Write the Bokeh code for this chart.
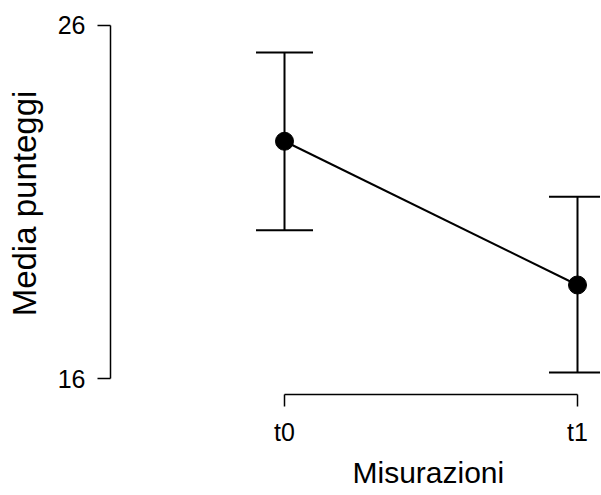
from bokeh.plotting import figure
from bokeh.models import (ColumnDataSource, Range1d, FixedTicker, Whisker, TeeHead, Title)
from bokeh.embed import file_html
from bokeh.resources import INLINE

# data
categories = ["t0", "t1"]
means = [22.72, 18.65]
lower = [20.20, 16.17]
upper = [25.23, 21.15]
y_ticks = [16, 26]

xs = list(range(len(categories)))
src = ColumnDataSource(dict(x=xs, mean=means, lower=lower, upper=upper))

FONT = "Liberation Sans"

p = figure(width=600, height=493, output_backend="svg", toolbar_location=None,
           x_range=Range1d(-0.5939, 1.0785), y_range=Range1d(15.549, 26.366),
           min_border_left=110, min_border_right=0, min_border_top=12,
           min_border_bottom=97)
p.outline_line_color = None
p.xgrid.visible = False
p.ygrid.visible = False
p.background_fill_color = "white"
p.border_fill_color = "white"

# error bars
w = Whisker(base="x", upper="upper", lower="lower", source=src,
            line_color="black", line_width=2,
            upper_head=TeeHead(size=57, line_color="black", line_width=2),
            lower_head=TeeHead(size=57, line_color="black", line_width=2))
p.add_layout(w)

p.line("x", "mean", source=src, line_color="black", line_width=2)
p.scatter("x", "mean", source=src, size=18, color="black")

# y axis
ya = p.yaxis[0]
ya.ticker = FixedTicker(ticks=y_ticks)
ya.bounds = (y_ticks[0], y_ticks[-1])
ya.minor_tick_line_color = None
ya.major_tick_out = 13
ya.major_tick_in = 0
ya.major_label_standoff = 12
ya.major_label_text_font = FONT
ya.major_label_text_font_size = "25px"
ya.major_label_text_color = "black"
ya.major_label_orientation = "horizontal"
ya.axis_line_width = 1.5
ya.major_tick_line_width = 1.5
ya.axis_line_color = "black"
ya.major_tick_line_color = "black"
ya.axis_label = "Media punteggi"
ya.axis_label_text_font = FONT
ya.axis_label_text_font_size = "33px"
ya.axis_label_text_font_style = "normal"
ya.axis_label_text_color = "black"
ya.axis_label_standoff = 12

# x axis
xa = p.xaxis[0]
xa.ticker = FixedTicker(ticks=xs)
xa.major_label_overrides = {i: c for i, c in zip(xs, categories)}
xa.bounds = (xs[0], xs[-1])
xa.minor_tick_line_color = None
xa.major_tick_out = 12
xa.major_tick_in = 0
xa.major_label_standoff = 11
xa.major_label_text_font = FONT
xa.major_label_text_font_size = "25px"
xa.major_label_text_color = "black"
xa.axis_line_width = 1.5
xa.major_tick_line_width = 1.5
xa.axis_line_color = "black"
xa.major_tick_line_color = "black"

xtitle = Title(text="Misurazioni", align="left", offset=237, standoff=0,
               padding=5,
               text_font=FONT, text_font_size="30px", text_font_style="normal",
               text_color="black")
p.add_layout(xtitle, "below")

open("out.html", "w").write(file_html(p, INLINE))
